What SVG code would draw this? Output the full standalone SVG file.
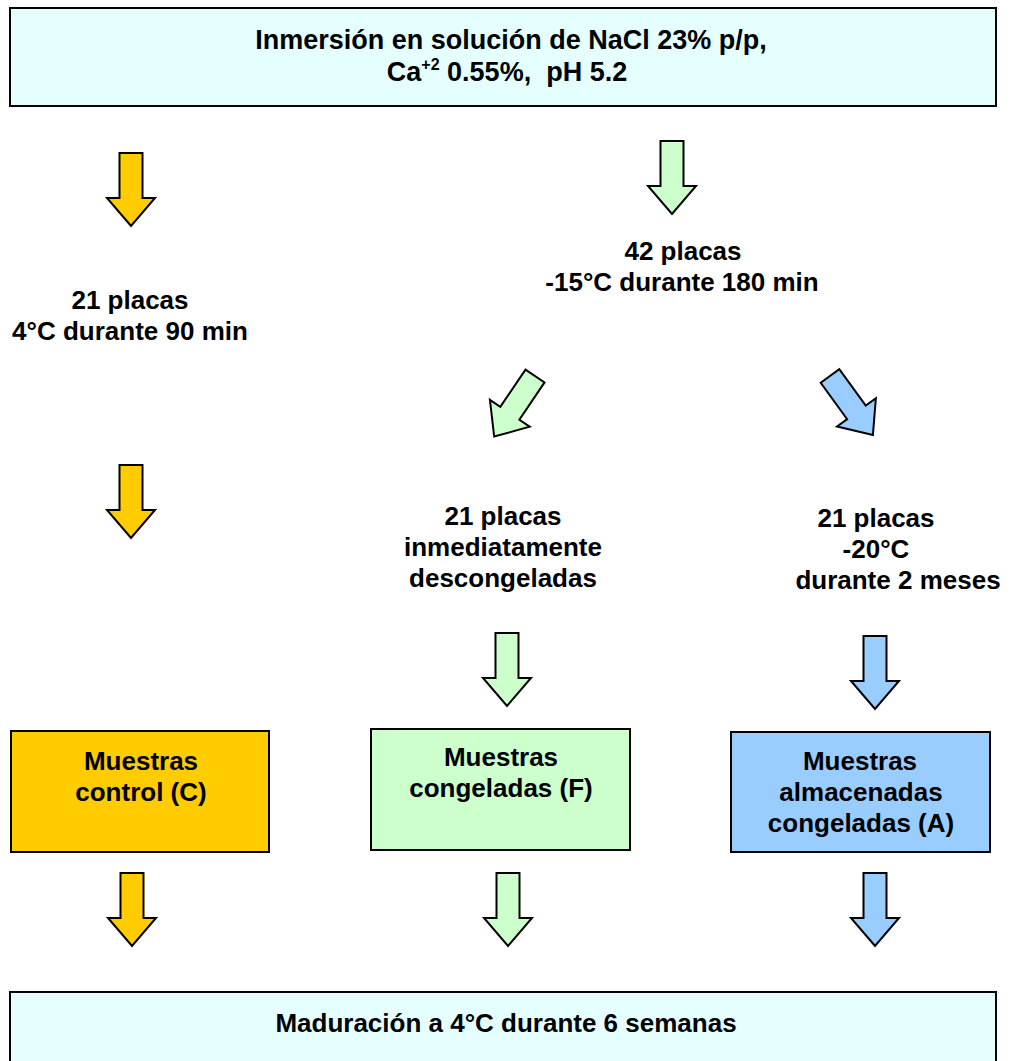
<svg xmlns="http://www.w3.org/2000/svg" width="1011" height="1061" viewBox="0 0 1011 1061">
<defs>
<style>
text{font-family:"Liberation Sans",Arial,sans-serif;font-weight:bold;font-size:26px;fill:#000;text-anchor:middle}
text.t{font-size:27px}
.box{stroke:#000;stroke-width:2}
.arr{stroke:#000;stroke-width:2;stroke-linejoin:miter}
.y{fill:#FFCC00}.g{fill:#CCFFCC}.b{fill:#99CCFF}.c{fill:#E5FFFF}
</style>
<path id="a" d="M-11.5,0 H11.5 V45 H24 L0,73 L-24,45 H-11.5 Z"/>
</defs>
<rect width="1011" height="1061" fill="#fff"/>
<g id="connectors">
<use href="#a" class="arr y" transform="translate(131,153)"/>
<use href="#a" class="arr y" transform="translate(131,465)"/>
<use href="#a" class="arr y" transform="translate(132,873)"/>
<use href="#a" class="arr g" transform="translate(672,141)"/>
<use href="#a" class="arr g" transform="translate(535,376) rotate(34)"/>
<use href="#a" class="arr g" transform="translate(507,633)"/>
<use href="#a" class="arr g" transform="translate(508,873)"/>
<use href="#a" class="arr b" transform="translate(830,376) rotate(-36)"/>
<use href="#a" class="arr b" transform="translate(875,636)"/>
<use href="#a" class="arr b" transform="translate(875,873)"/>
</g>
<g id="top">
<rect class="box c" x="10" y="8" width="986" height="98"/>
<text class="t" x="511" y="49">Inmersión en solución de NaCl 23% p/p,</text>
<text class="t" x="507" y="81" xml:space="preserve">Ca<tspan font-size="16" dy="-11">+2</tspan><tspan dy="11"> 0.55%,  pH 5.2</tspan></text>
</g>
<g id="lbl42">
<text x="683" y="260">42 placas</text>
<text x="682" y="291">-15°C durante 180 min</text>
</g>
<g id="lbl21c">
<text x="130" y="309">21 placas</text>
<text x="130" y="340">4°C durante 90 min</text>
</g>
<g id="lbl21f">
<text x="503" y="525">21 placas</text>
<text x="503" y="556">inmediatamente</text>
<text x="503" y="587">descongeladas</text>
</g>
<g id="lbl21a">
<text x="876" y="527">21 placas</text>
<text x="876" y="558">-20°C</text>
<text x="898" y="589">durante 2 meses</text>
</g>
<g id="boxC">
<rect class="box y" x="11" y="731" width="258" height="121"/>
<text x="141" y="770">Muestras</text>
<text x="141" y="801">control (C)</text>
</g>
<g id="boxF">
<rect class="box g" x="371" y="729" width="259" height="121"/>
<text x="501" y="766">Muestras</text>
<text x="501" y="797">congeladas (F)</text>
</g>
<g id="boxA">
<rect class="box b" x="731" y="732" width="259" height="120"/>
<text x="860" y="770">Muestras</text>
<text x="861" y="801">almacenadas</text>
<text x="861" y="832">congeladas (A)</text>
</g>
<g id="bottom">
<rect class="box c" x="10" y="992" width="986" height="80"/>
<text x="506" y="1032">Maduración a 4°C durante 6 semanas</text>
</g>
</svg>
